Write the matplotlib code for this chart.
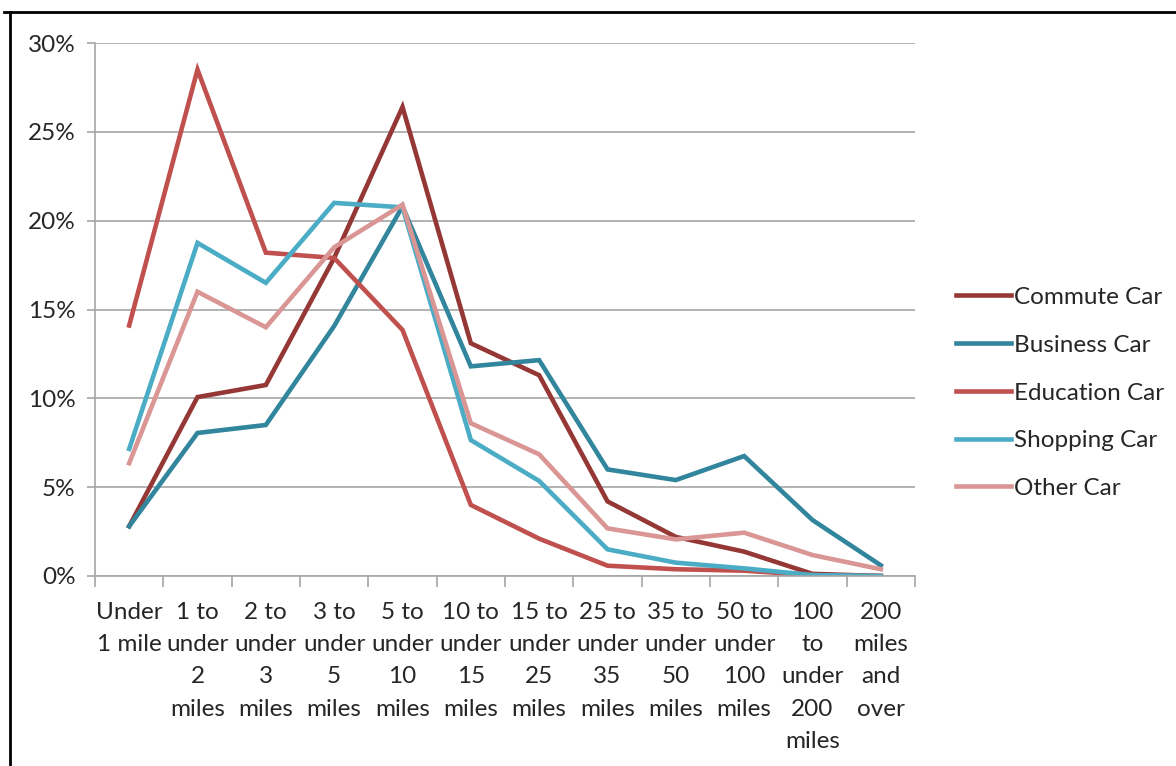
import numpy as np
import matplotlib
matplotlib.use('Agg')
import matplotlib.pyplot as plt
from matplotlib.lines import Line2D

plt.rcParams['font.family'] = ['Lato', 'DejaVu Sans']

categories = ['Under\n1 mile', '1 to\nunder\n2\nmiles', '2 to\nunder\n3\nmiles',
              '3 to\nunder\n5\nmiles', '5 to\nunder\n10\nmiles', '10 to\nunder\n15\nmiles',
              '15 to\nunder\n25\nmiles', '25 to\nunder\n35\nmiles', '35 to\nunder\n50\nmiles',
              '50 to\nunder\n100\nmiles', '100\nto\nunder\n200\nmiles', '200\nmiles\nand\nover']

commute = [2.8, 10.07, 10.75, 17.9, 26.4, 13.1, 11.3, 4.2, 2.2, 1.37, 0.12, 0.0]
business = [2.8, 8.05, 8.5, 14.07, 20.8, 11.8, 12.15, 6.0, 5.4, 6.75, 3.15, 0.6]
education = [14.1, 28.5, 18.2, 17.9, 13.85, 4.0, 2.1, 0.58, 0.38, 0.3, 0.05, 0.0]
shopping = [7.15, 18.75, 16.5, 21.0, 20.75, 7.65, 5.35, 1.5, 0.75, 0.43, 0.05, 0.0]
other = [6.35, 16.0, 14.0, 18.5, 20.9, 8.6, 6.85, 2.68, 2.06, 2.44, 1.18, 0.38]

series = [('Commute Car', commute, '#953735'),
          ('Business Car', business, '#31859C'),
          ('Education Car', education, '#C0504D'),
          ('Shopping Car', shopping, '#4BACC6'),
          ('Other Car', other, '#D99694')]

W, H = 1176, 766
fig = plt.figure(figsize=(W / 100, H / 100), dpi=100)
ax = fig.add_axes([95 / W, 1 - 576 / H, (915 - 95) / W, (576 - 43) / H])

x = np.arange(len(categories))
for name, vals, col in series:
    ax.plot(x, vals, color=col, lw=3.3, label=name, solid_joinstyle='miter')

ax.set_xlim(-0.5, len(categories) - 0.5)
ax.set_ylim(0, 30)
ax.set_yticks(range(0, 31, 5))
ax.set_yticklabels([f'{v}%' for v in range(0, 31, 5)])
ax.yaxis.grid(True, color='#A6A6A6', lw=1.2)
ax.set_axisbelow(True)

fs = 17.5
ax.set_xticks(x)
ax.set_xticklabels(categories, linespacing=1.65)
ax.set_xticks(np.arange(-0.5, len(categories)), minor=True)
ax.tick_params(axis='x', which='major', length=0, pad=19, labelsize=fs, colors='#262626')
ax.tick_params(axis='x', which='minor', length=8, color='#A6A6A6', width=1.2)
ax.tick_params(axis='y', length=6, color='#A6A6A6', width=1.2, labelsize=fs,
               labelcolor='#262626', pad=8)

for s in ['top', 'right']:
    ax.spines[s].set_visible(False)
for s in ['left', 'bottom']:
    ax.spines[s].set_color('#A6A6A6')
    ax.spines[s].set_linewidth(1.2)

leg = fig.legend(loc='center left', bbox_to_anchor=(934 / W, 1 - 393 / H), frameon=False,
                 fontsize=fs, handlelength=2.26, handletextpad=0.12, labelspacing=1.1,
                 labelcolor='#262626')

# outer chart frame (only top and left edges visible)
fig.add_artist(Line2D([4 / W, 1], [1 - 12 / H, 1 - 12 / H], color='black', lw=2,
                      transform=fig.transFigure))
fig.add_artist(Line2D([10 / W, 10 / W], [0, 1 - 12 / H], color='black', lw=2,
                      transform=fig.transFigure))

fig.savefig('out.png', dpi=100)
